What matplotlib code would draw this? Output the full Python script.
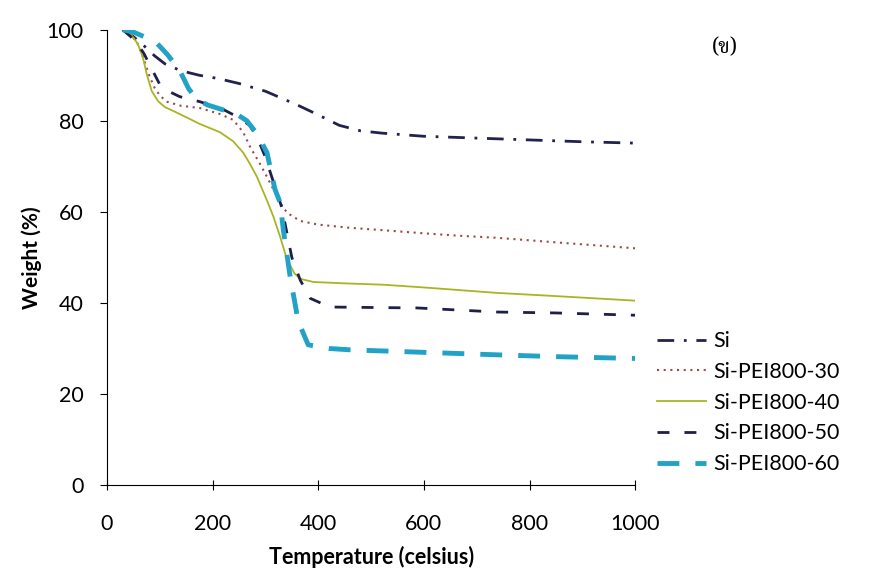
import numpy as np
import matplotlib.pyplot as plt

plt.rcParams['font.family'] = ['Lato', 'DejaVu Sans']

# temperature (celsius) / weight (%)
si_t = [30, 50, 70, 90, 110, 140, 175, 210, 250, 300, 330, 360, 400, 440,
        480, 520, 600, 700, 800, 900, 1000]
si_w = [100, 98.5, 96.5, 94.3, 92.5, 91, 90, 89.3, 88.2, 86.5, 85, 83.5,
        81.3, 79, 77.8, 77.3, 76.6, 76.2, 75.8, 75.4, 75.1]

p30_t = [30, 45, 58, 70, 80, 90, 100, 113, 140, 176, 214, 239, 258, 271,
         290, 303, 328, 341, 366, 400, 460, 520, 587, 660, 739, 850, 1000]
p30_w = [100, 99, 97, 93.5, 90, 87.3, 85.6, 84.2, 83.3, 82.8, 81.5, 80.2,
         77.5, 74.3, 70.5, 67.7, 62, 59.8, 58, 57.2, 56.5, 56, 55.4, 54.8,
         54.3, 53.3, 52]

p40_t = [30, 45, 58, 68, 76, 85, 97, 110, 125, 150, 176, 214, 239, 258, 271,
         284, 303, 315, 328, 341, 355, 366, 391, 450, 523, 600, 739, 850, 1000]
p40_w = [100, 99, 97, 94, 90, 86.5, 84.3, 83, 82.2, 80.8, 79.3, 77.5, 75.5,
         73, 70.5, 67.7, 62.5, 59, 54.5, 49.5, 46.5, 45.3, 44.6, 44.3, 44,
         43.4, 42.2, 41.5, 40.5]

p50_t = [30, 45, 59, 70, 81, 100, 120, 138, 176, 220, 250, 270, 284, 300,
         312, 331, 350, 366, 385, 422, 500, 587, 739, 850, 1000]
p50_w = [100, 98.5, 96.7, 94.8, 92.3, 88, 86.3, 85.3, 84.2, 82.5, 80.7, 79,
         76.5, 72, 67.7, 61, 50, 45, 41, 39.1, 39, 38.9, 38, 37.8, 37.3]

p60_t = [30, 50, 70, 95, 115, 138, 155, 170, 190, 220, 245, 265, 285, 303,
         318, 328, 334, 347, 362, 381, 420, 460, 587, 739, 850, 1000]
p60_w = [100, 99.5, 98.5, 97, 94.5, 91, 87, 84.8, 83.5, 82.4, 81.5, 80, 77,
         73, 65, 62, 56, 45.7, 36, 30.8, 30, 29.7, 29.2, 28.6, 28.2, 27.8]

labels = ['Si', 'Si-PEI800-30', 'Si-PEI800-40', 'Si-PEI800-50', 'Si-PEI800-60']

fig = plt.figure(figsize=(8.69, 5.72), dpi=100)
ax = fig.add_axes([0.123, 0.152, 0.608, 0.796])

ax.plot(si_t, si_w, color='#22224e', lw=2.0, dashes=(6, 3.5, 1, 3.5), label=labels[0])
ax.plot(p30_t, p30_w, color='#a04848', lw=1.5, dashes=(1, 2.2), label=labels[1])
ax.plot(p40_t, p40_w, color='#a8b523', lw=1.3, label=labels[2])
ax.plot(p50_t, p50_w, color='#1f1f4a', lw=2.0, dashes=(4.3, 5.4), label=labels[3])
ax.plot(p60_t, p60_w, color='#22a2c4', lw=3.5, dashes=(4.5, 3.3), label=labels[4])

ax.set_xlim(0, 1000)
ax.set_ylim(0, 100)
ax.set_xticks(np.arange(0, 1001, 200))
ax.set_yticks(np.arange(0, 101, 20))
ax.spines['top'].set_visible(False)
ax.spines['right'].set_visible(False)
ax.tick_params(axis='x', direction='inout', length=7, labelsize=15.5, pad=17)
ax.tick_params(axis='y', direction='out', length=5, labelsize=15.5, pad=12)
ax.set_xlabel('Temperature (celsius)', fontsize=15.5, fontweight='bold', labelpad=9)
ax.set_ylabel('Weight (%)', fontsize=15, fontweight='bold', labelpad=3)

fig.legend(loc='upper left', bbox_to_anchor=(0.756, 0.421), frameon=False,
           borderpad=0, borderaxespad=0, fontsize=15.5, handlelength=2.3,
           handletextpad=0.3, labelspacing=0.5)

fig.text(0.834, 0.918, '(ข)', fontsize=15, ha='center', va='center',
         family=['Noto Serif Thai', 'Noto Sans Thai', 'Loma', 'Garuda', 'DejaVu Sans'])

plt.savefig('out.png', dpi=100)
